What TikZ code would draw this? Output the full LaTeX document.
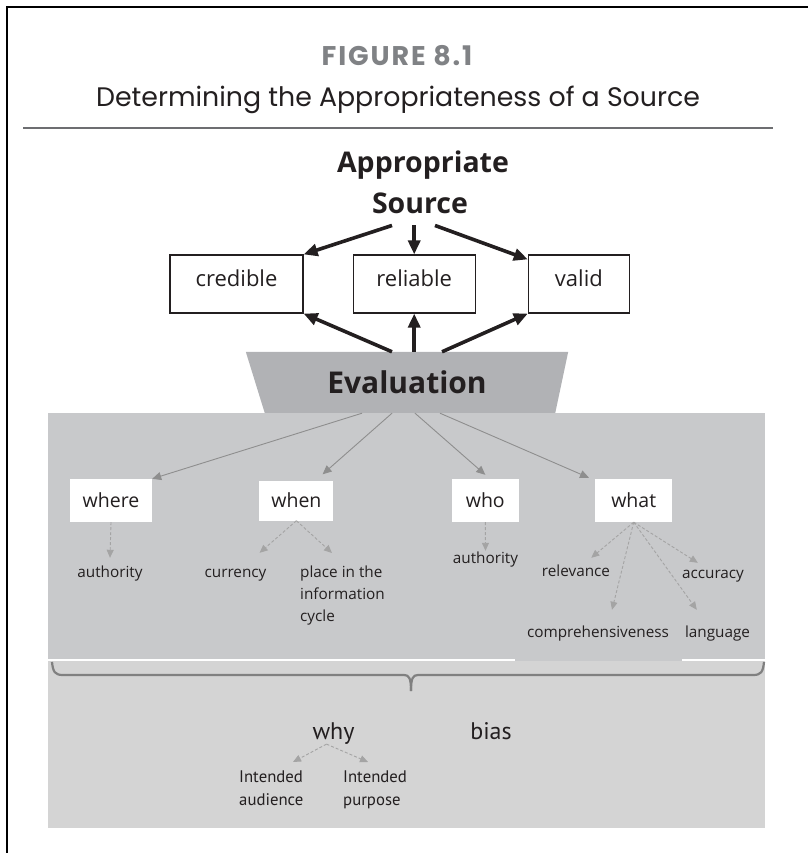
\documentclass[tikz,border=0pt]{standalone}
\usepackage{fontspec}
\setmainfont{Open Sans}
\newfontfamily\titlefont{Poppins}
\newfontfamily\figfont{Poppins}[LetterSpace=7]
\newfontfamily\narrowfont{PT Sans}
\usepackage{tikz}
\usetikzlibrary{positioning, arrows.meta, backgrounds}

\definecolor{panelgrey}{HTML}{C8C9CB}
\definecolor{lowgrey}{HTML}{D4D4D4}
\definecolor{evalgrey}{HTML}{B1B2B5}
\definecolor{linegrey}{HTML}{8E8E8E}
\definecolor{dashgrey}{HTML}{A4A4A4}
\definecolor{bracketgrey}{HTML}{808080}
\definecolor{rulegrey}{HTML}{6D6E71}
\definecolor{figgrey}{HTML}{808285}
\definecolor{textblack}{HTML}{231F20}

\begin{document}
\begin{tikzpicture}[
		x=1pt, y=-1pt,
		figlabel/.style={font=\figfont\bfseries\fontsize{27}{32}\selectfont, text=figgrey, inner sep=0pt},
		subtitle/.style={font=\titlefont\fontsize{26.8}{32}\selectfont, text=textblack, inner sep=0pt},
		headtext/.style={font=\bfseries\fontsize{28.5}{34}\selectfont, text=textblack, inner sep=0pt},
		topbox/.style={rectangle, draw=textblack, line width=1.2pt, fill=white, minimum height=58pt, text height=16pt, text depth=12pt, font=\fontsize{22}{26}\selectfont, text=textblack},
		askbox/.style={rectangle, fill=white, minimum height=43pt, font=\fontsize{19.5}{24}\selectfont, text=textblack},
		leaf/.style={inner sep=0pt, text height=11pt, text depth=3pt, font=\fontsize{15.3}{22}\selectfont, text=textblack},
		leaflines/.style={inner sep=0pt, align=left, font=\fontsize{15.3}{22}\selectfont, text=textblack},
		condlines/.style={inner sep=0pt, align=left, font=\narrowfont\fontsize{16.75}{23}\selectfont, text=textblack},
		condword/.style={inner sep=0pt, font=\narrowfont\fontsize{24}{28}\selectfont, text=textblack},
		evaltext/.style={rectangle, minimum width=322pt, minimum height=61pt, inner sep=0pt, font=\bfseries\fontsize{30}{36}\selectfont, text=textblack},
		bigarrow/.style={-{Triangle[length=14pt, width=12pt]}, line width=3.6pt, draw=textblack},
		branch/.style={-{Triangle[length=9pt, width=8pt]}, line width=0.9pt, draw=linegrey},
		subbranch/.style={-{Triangle[length=8pt, width=7pt]}, line width=0.9pt, draw=dashgrey, dash pattern=on 3pt off 2pt},
		bracket/.style={line width=2.2pt, draw=bracketgrey}
		]

		\useasboundingbox (0,0) rectangle (808,853);

		% frame and heading
		\draw[line width=1.4pt] (7,853) -- (7,7) -- (808,7);
		\node[figlabel, anchor=base] (fig) at (397,66) {FIGURE 8.1};
		\node[subtitle, anchor=base] (subt) at (398,107) {Determining the Appropriateness of a Source};
		\draw[rulegrey, line width=2pt] (23,128) -- (773,128);

		% grey panels
		\fill[panelgrey] (48,413) rectangle (765,659);
		\fill[panelgrey] (515,659) rectangle (682,661);
		\fill[lowgrey] (48,661) rectangle (765,828);
		\draw[bracket] (52,662) .. controls (53,672) and (55,675) .. (63,675) -- (404,675) .. controls (409,675) and (411,678) .. (411,691);
		\draw[bracket] (764,662) .. controls (763,672) and (761,675) .. (753,675) -- (418,675) .. controls (413,675) and (411,678) .. (411,691);

		\node[headtext, anchor=base] (appr) at (423,172) {Appropriate};
		\node[headtext, anchor=base] (src) at (420,213) {Source};

		\node[topbox, minimum width=133pt] (credible) at (236.5,284) {credible};
		\node[topbox, minimum width=122pt, right=49pt of credible] (reliable) {reliable};
		\node[topbox, minimum width=101pt, right=52pt of reliable] (valid) {valid};

		\node[evaltext] (eval) at (407,382.5) {Evaluation};
		\begin{scope}[on background layer]
			\fill[evalgrey] (eval.north west) -- (eval.north east) -- ([xshift=-13pt]eval.south east) -- ([xshift=19pt]eval.south west) -- cycle;
		\end{scope}

		\node[askbox, minimum width=82pt] (where) at (111,500.5) {where};
		\node[askbox, minimum width=74pt, minimum height=40pt, right=107pt of where] (when) {when};
		\node[askbox, minimum width=67pt, right=118pt of when] (who) {who};
		\node[askbox, minimum width=77pt, right=76pt of who] (what) {what};

		\node[leaf, anchor=base] (authA) at (110,577) {authority};
		\node[leaf, anchor=base] (currency) at (235.5,577) {currency};
		\node[leaflines, anchor=north west] (place) at (300,565.5) {place in the\\information\\cycle};
		\node[leaf, anchor=base] (authB) at (485.5,563) {authority};
		\node[leaf, anchor=base] (relev) at (576,576) {relevance};
		\node[leaf, anchor=base] (accur) at (713,578) {accuracy};
		\node[leaf, anchor=base] (compr) at (598,637) {comprehensiveness};
		\node[leaf, anchor=base] (lang) at (717.5,637) {language};

		\node[condword, anchor=base] (why) at (333.5,739) {why};
		\node[condword, anchor=base] (bias) at (491,739) {bias};
		\node[condlines, anchor=north west] (intaud) at (239,771) {Intended\\audience};
		\node[condlines, anchor=north west] (intpur) at (343,771) {Intended\\purpose};

		% source and evaluation arrows
		\draw[bigarrow] ([xshift=-28pt]src.south) ++(0,12) -- (credible.north east);
		\draw[bigarrow] ([yshift=-12pt]src.south -| reliable.north) -- (reliable.north);
		\draw[bigarrow] ([xshift=15pt]src.south) ++(0,12) -- ([yshift=-5pt]valid.north west);
		\draw[bigarrow] ([xshift=-15pt]eval.north) -- (credible.south east);
		\draw[bigarrow] (eval.north -| reliable.south) -- (reliable.south);
		\draw[bigarrow] ([xshift=35pt]eval.north) -- (valid.south west);

		\draw[branch] ([xshift=-45pt]eval.south) -- (where.north east);
		\draw[branch] ([xshift=-15pt]eval.south) -- ([xshift=-11pt, yshift=6pt]when.north east);
		\draw[branch] ([xshift=8pt]eval.south) -- ([yshift=4pt]who.north);
		\draw[branch] ([xshift=33pt]eval.south) -- ([xshift=-6pt, yshift=1pt]what.north west);

		\draw[subbranch] (where.south) -- ([yshift=8pt]authA.north);
		\draw[subbranch] (when.south) -- ([xshift=-7pt, yshift=13pt]currency.north east);
		\draw[subbranch] (when.south) -- ([xshift=32pt, yshift=12.5pt]place.north west);
		\draw[subbranch] (who.south) -- ([yshift=1pt]authB.north);
		\draw[subbranch] (what.south) -- ([xshift=-19pt, yshift=7pt]relev.north east);
		\draw[subbranch] (what.south) -- ([xshift=16pt, yshift=4pt]accur.north west);
		\draw[subbranch] (what.south) -- ([xshift=14pt, yshift=16pt]compr.north);
		\draw[subbranch] (what.south) -- ([xshift=12pt, yshift=16pt]lang.north west);

		\draw[subbranch] ([xshift=-7pt]why.south) -- ([xshift=54pt, yshift=9pt]intaud.north west);
		\draw[subbranch] ([xshift=-7pt]why.south) -- ([xshift=25pt, yshift=9pt]intpur.north west);
	\end{tikzpicture}
\end{document}
